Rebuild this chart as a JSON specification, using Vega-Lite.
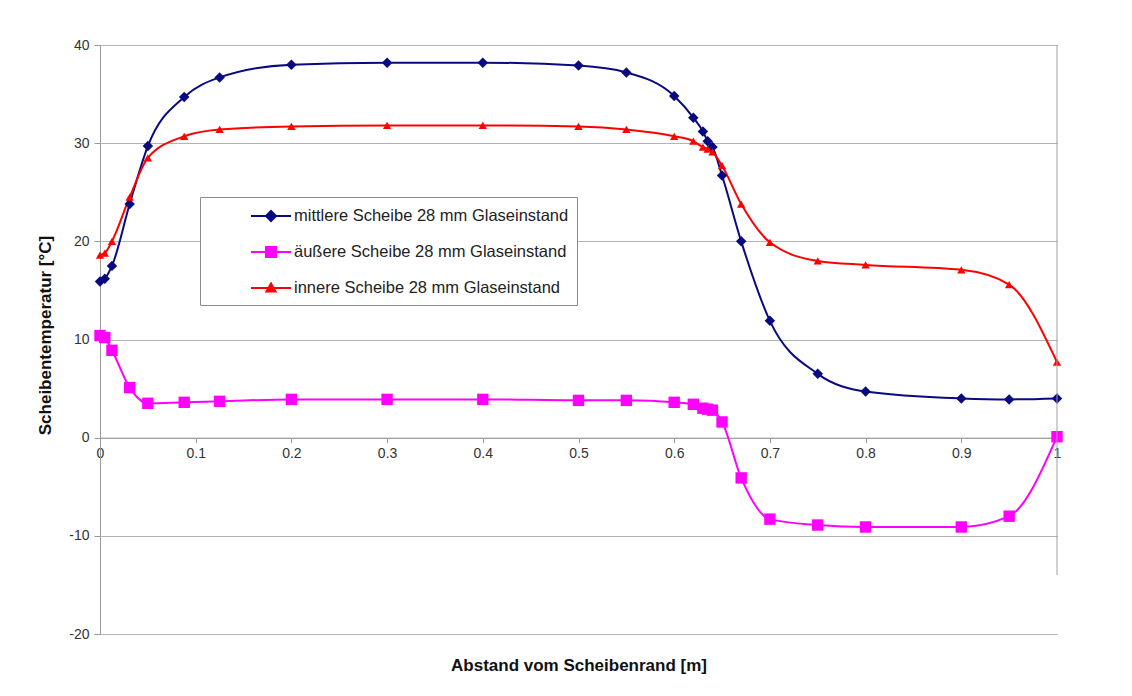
{
  "$schema": "https://vega.github.io/schema/vega-lite/v6.json",
  "width": 957,
  "height": 589,
  "autosize": {"type": "none"},
  "padding": {"left": 100, "top": 45, "right": 75, "bottom": 62},
  "background": "white",
  "config": {
    "font": "Liberation Sans",
    "view": {"stroke": null},
    "axis": {"labelFont": "Liberation Sans", "titleFont": "Liberation Sans"}
  },
  "datasets": {
    "temps": [
      {"x": 0, "t": 15.9, "s": "mittlere Scheibe 28 mm Glaseinstand"},
      {"x": 0.005, "t": 16.2, "s": "mittlere Scheibe 28 mm Glaseinstand"},
      {"x": 0.0125, "t": 17.5, "s": "mittlere Scheibe 28 mm Glaseinstand"},
      {"x": 0.031, "t": 23.8, "s": "mittlere Scheibe 28 mm Glaseinstand"},
      {"x": 0.05, "t": 29.7, "s": "mittlere Scheibe 28 mm Glaseinstand"},
      {"x": 0.088, "t": 34.7, "s": "mittlere Scheibe 28 mm Glaseinstand"},
      {"x": 0.125, "t": 36.7, "s": "mittlere Scheibe 28 mm Glaseinstand"},
      {"x": 0.2, "t": 38.0, "s": "mittlere Scheibe 28 mm Glaseinstand"},
      {"x": 0.3, "t": 38.2, "s": "mittlere Scheibe 28 mm Glaseinstand"},
      {"x": 0.4, "t": 38.2, "s": "mittlere Scheibe 28 mm Glaseinstand"},
      {"x": 0.5, "t": 37.9, "s": "mittlere Scheibe 28 mm Glaseinstand"},
      {"x": 0.55, "t": 37.2, "s": "mittlere Scheibe 28 mm Glaseinstand"},
      {"x": 0.6, "t": 34.8, "s": "mittlere Scheibe 28 mm Glaseinstand"},
      {"x": 0.62, "t": 32.6, "s": "mittlere Scheibe 28 mm Glaseinstand"},
      {"x": 0.63, "t": 31.2, "s": "mittlere Scheibe 28 mm Glaseinstand"},
      {"x": 0.635, "t": 30.2, "s": "mittlere Scheibe 28 mm Glaseinstand"},
      {"x": 0.64, "t": 29.6, "s": "mittlere Scheibe 28 mm Glaseinstand"},
      {"x": 0.65, "t": 26.7, "s": "mittlere Scheibe 28 mm Glaseinstand"},
      {"x": 0.67, "t": 20.0, "s": "mittlere Scheibe 28 mm Glaseinstand"},
      {"x": 0.7, "t": 11.9, "s": "mittlere Scheibe 28 mm Glaseinstand"},
      {"x": 0.75, "t": 6.5, "s": "mittlere Scheibe 28 mm Glaseinstand"},
      {"x": 0.8, "t": 4.7, "s": "mittlere Scheibe 28 mm Glaseinstand"},
      {"x": 0.9, "t": 4.0, "s": "mittlere Scheibe 28 mm Glaseinstand"},
      {"x": 0.95, "t": 3.9, "s": "mittlere Scheibe 28 mm Glaseinstand"},
      {"x": 1.0, "t": 4.0, "s": "mittlere Scheibe 28 mm Glaseinstand"},
      {"x": 0, "t": 10.4, "s": "äußere Scheibe 28 mm Glaseinstand"},
      {"x": 0.005, "t": 10.2, "s": "äußere Scheibe 28 mm Glaseinstand"},
      {"x": 0.0125, "t": 8.9, "s": "äußere Scheibe 28 mm Glaseinstand"},
      {"x": 0.031, "t": 5.1, "s": "äußere Scheibe 28 mm Glaseinstand"},
      {"x": 0.05, "t": 3.5, "s": "äußere Scheibe 28 mm Glaseinstand"},
      {"x": 0.088, "t": 3.6, "s": "äußere Scheibe 28 mm Glaseinstand"},
      {"x": 0.125, "t": 3.7, "s": "äußere Scheibe 28 mm Glaseinstand"},
      {"x": 0.2, "t": 3.9, "s": "äußere Scheibe 28 mm Glaseinstand"},
      {"x": 0.3, "t": 3.9, "s": "äußere Scheibe 28 mm Glaseinstand"},
      {"x": 0.4, "t": 3.9, "s": "äußere Scheibe 28 mm Glaseinstand"},
      {"x": 0.5, "t": 3.8, "s": "äußere Scheibe 28 mm Glaseinstand"},
      {"x": 0.55, "t": 3.8, "s": "äußere Scheibe 28 mm Glaseinstand"},
      {"x": 0.6, "t": 3.6, "s": "äußere Scheibe 28 mm Glaseinstand"},
      {"x": 0.62, "t": 3.4, "s": "äußere Scheibe 28 mm Glaseinstand"},
      {"x": 0.63, "t": 3.0, "s": "äußere Scheibe 28 mm Glaseinstand"},
      {"x": 0.635, "t": 2.9, "s": "äußere Scheibe 28 mm Glaseinstand"},
      {"x": 0.64, "t": 2.8, "s": "äußere Scheibe 28 mm Glaseinstand"},
      {"x": 0.65, "t": 1.6, "s": "äußere Scheibe 28 mm Glaseinstand"},
      {"x": 0.67, "t": -4.1, "s": "äußere Scheibe 28 mm Glaseinstand"},
      {"x": 0.7, "t": -8.3, "s": "äußere Scheibe 28 mm Glaseinstand"},
      {"x": 0.75, "t": -8.9, "s": "äußere Scheibe 28 mm Glaseinstand"},
      {"x": 0.8, "t": -9.1, "s": "äußere Scheibe 28 mm Glaseinstand"},
      {"x": 0.9, "t": -9.1, "s": "äußere Scheibe 28 mm Glaseinstand"},
      {"x": 0.95, "t": -8.0, "s": "äußere Scheibe 28 mm Glaseinstand"},
      {"x": 1.0, "t": 0.1, "s": "äußere Scheibe 28 mm Glaseinstand"},
      {"x": 0, "t": 18.6, "s": "innere Scheibe 28 mm Glaseinstand"},
      {"x": 0.005, "t": 18.8, "s": "innere Scheibe 28 mm Glaseinstand"},
      {"x": 0.0125, "t": 20.0, "s": "innere Scheibe 28 mm Glaseinstand"},
      {"x": 0.031, "t": 24.5, "s": "innere Scheibe 28 mm Glaseinstand"},
      {"x": 0.05, "t": 28.5, "s": "innere Scheibe 28 mm Glaseinstand"},
      {"x": 0.088, "t": 30.7, "s": "innere Scheibe 28 mm Glaseinstand"},
      {"x": 0.125, "t": 31.4, "s": "innere Scheibe 28 mm Glaseinstand"},
      {"x": 0.2, "t": 31.7, "s": "innere Scheibe 28 mm Glaseinstand"},
      {"x": 0.3, "t": 31.8, "s": "innere Scheibe 28 mm Glaseinstand"},
      {"x": 0.4, "t": 31.8, "s": "innere Scheibe 28 mm Glaseinstand"},
      {"x": 0.5, "t": 31.7, "s": "innere Scheibe 28 mm Glaseinstand"},
      {"x": 0.55, "t": 31.4, "s": "innere Scheibe 28 mm Glaseinstand"},
      {"x": 0.6, "t": 30.7, "s": "innere Scheibe 28 mm Glaseinstand"},
      {"x": 0.62, "t": 30.2, "s": "innere Scheibe 28 mm Glaseinstand"},
      {"x": 0.63, "t": 29.6, "s": "innere Scheibe 28 mm Glaseinstand"},
      {"x": 0.635, "t": 29.4, "s": "innere Scheibe 28 mm Glaseinstand"},
      {"x": 0.64, "t": 29.1, "s": "innere Scheibe 28 mm Glaseinstand"},
      {"x": 0.65, "t": 27.7, "s": "innere Scheibe 28 mm Glaseinstand"},
      {"x": 0.67, "t": 23.8, "s": "innere Scheibe 28 mm Glaseinstand"},
      {"x": 0.7, "t": 19.9, "s": "innere Scheibe 28 mm Glaseinstand"},
      {"x": 0.75, "t": 18.0, "s": "innere Scheibe 28 mm Glaseinstand"},
      {"x": 0.8, "t": 17.6, "s": "innere Scheibe 28 mm Glaseinstand"},
      {"x": 0.9, "t": 17.1, "s": "innere Scheibe 28 mm Glaseinstand"},
      {"x": 0.95, "t": 15.6, "s": "innere Scheibe 28 mm Glaseinstand"},
      {"x": 1.0, "t": 7.7, "s": "innere Scheibe 28 mm Glaseinstand"}
    ],
    "edge": [{"x": 1, "t": 40, "t2": -14}]
  },
  "layer": [
    {
      "data": {"name": "temps"},
      "mark": {"type": "line", "interpolate": "monotone", "strokeWidth": 2},
      "encoding": {
        "x": {
          "field": "x", "type": "quantitative",
          "scale": {"domain": [0, 1], "nice": false, "zero": false},
          "axis": {
            "title": "Abstand vom Scheibenrand [m]",
            "offset": -196.33,
            "values": [0, 0.1, 0.2, 0.3, 0.4, 0.5, 0.6, 0.7, 0.8, 0.9, 1],
            "format": ".1~f",
            "grid": false,
            "domainColor": "#9a9a9a",
            "tickColor": "#9a9a9a",
            "tickSize": 5,
            "labelFontSize": 14,
            "labelColor": "#333333",
            "labelPadding": 4,
            "labelFlush": false,
            "titleFontSize": 17,
            "titleFontWeight": "bold",
            "titleColor": "#111111",
            "titleBaseline": "middle",
            "titleY": 228
          }
        },
        "y": {
          "field": "t", "type": "quantitative",
          "scale": {"domain": [-20, 40], "nice": false},
          "axis": {
            "title": "Scheibentemperatur [°C]",
            "values": [-20, -10, 0, 10, 20, 30, 40],
            "labelExpr": "datum.value < 0 ? '-' + abs(datum.value) : '' + datum.value",
            "grid": true,
            "gridColor": "#b4b4b4",
            "domainColor": "#9a9a9a",
            "tickColor": "#9a9a9a",
            "tickSize": 6,
            "labelFontSize": 14,
            "labelColor": "#333333",
            "labelPadding": 5,
            "titleFontSize": 17,
            "titleFontWeight": "bold",
            "titleColor": "#111111",
            "titleAngle": -90,
            "titleBaseline": "middle",
            "titleX": -55,
            "titleY": 290
          }
        },
        "color": {
          "field": "s", "type": "nominal",
          "scale": {
            "domain": ["mittlere Scheibe 28 mm Glaseinstand", "äußere Scheibe 28 mm Glaseinstand", "innere Scheibe 28 mm Glaseinstand"],
            "range": ["#0a0a80", "#ff00ff", "#ff0000"]
          },
          "legend": {
            "title": null,
            "orient": "none",
            "legendX": 100,
            "legendY": 152,
            "padding": 8,
            "strokeColor": "#8c8c8c",
            "fillColor": "white",
            "rowPadding": 16,
            "symbolSize": 400,
            "symbolStrokeWidth": 2,
            "labelFontSize": 16.5,
            "labelColor": "#222222",
            "labelOffset": 64,
            "labelLimit": 400,
            "encode": {
              "symbols": {
                "update": {
                  "shape": {"signal": "datum.index == 0 ? 'M3.2,0L7.2,0M5.2,-0.5L5.7,0L5.2,0.5L4.7,0Z' : datum.index == 1 ? 'M3.2,0L7.2,0M4.7,-0.5L5.7,-0.5L5.7,0.5L4.7,0.5Z' : 'M3.2,0L7.2,0M5.2,-0.45L5.65,0.35L4.75,0.35Z'"},
                  "fill": {"scale": "color", "field": "value"},
                  "stroke": {"scale": "color", "field": "value"},
                  "strokeWidth": {"value": 2},
                  "size": {"value": 400},
                  "opacity": {"value": 1},
                  "fillOpacity": {"value": 1}
                }
              }
            }
          }
        }
      }
    },
    {
      "data": {"name": "temps"},
      "transform": [{"filter": "datum.s == 'mittlere Scheibe 28 mm Glaseinstand'"}],
      "mark": {"type": "point", "filled": true, "opacity": 1, "shape": "diamond", "size": 110},
      "encoding": {
        "x": {"field": "x", "type": "quantitative"},
        "y": {"field": "t", "type": "quantitative"},
        "color": {"field": "s", "type": "nominal"}
      }
    },
    {
      "data": {"name": "temps"},
      "transform": [{"filter": "datum.s == 'äußere Scheibe 28 mm Glaseinstand'"}],
      "mark": {"type": "point", "filled": true, "opacity": 1, "shape": "square", "size": 130},
      "encoding": {
        "x": {"field": "x", "type": "quantitative"},
        "y": {"field": "t", "type": "quantitative"},
        "color": {"field": "s", "type": "nominal"}
      }
    },
    {
      "data": {"name": "temps"},
      "transform": [{"filter": "datum.s == 'innere Scheibe 28 mm Glaseinstand'"}],
      "mark": {"type": "point", "filled": true, "opacity": 1, "shape": "triangle-up", "size": 70},
      "encoding": {
        "x": {"field": "x", "type": "quantitative"},
        "y": {"field": "t", "type": "quantitative"},
        "color": {"field": "s", "type": "nominal"}
      }
    },
    {
      "data": {"name": "edge"},
      "mark": {"type": "rule", "color": "#a0a0a0", "strokeWidth": 1},
      "encoding": {
        "x": {"field": "x", "type": "quantitative"},
        "y": {"field": "t", "type": "quantitative"},
        "y2": {"field": "t2"}
      }
    }
  ]
}
